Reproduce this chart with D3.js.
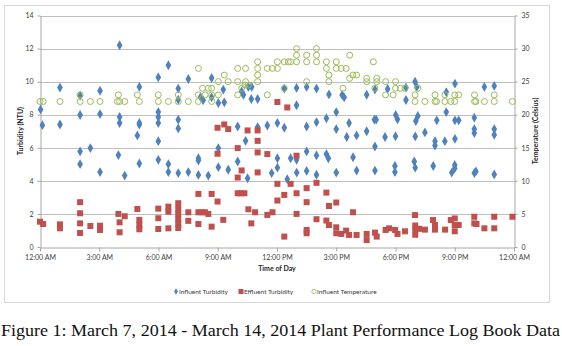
<!DOCTYPE html>
<html>
<head>
<meta charset="utf-8">
<script src="https://cdn.jsdelivr.net/npm/d3@7"></script>
<style>
  html, body { margin: 0; padding: 0; background: #fff; }
  svg { display: block; }
</style>
</head>
<body>
<svg id="chart" width="562" height="346"></svg>
<script>
// Plant performance log: readings by time of day (hours after midnight)
const influentHours = [0.03,0.12,1.01,1.01,2.03,2.03,2.03,2.03,2.55,3.04,3.04,3.04,4.03,4.03,4.03,3.97,4.29,5.03,5.03,5.03,4.93,5.03,
  5.99,5.99,5.99,5.99,5.99,5.99,6.5,6.5,6.5,7.0,7.0,7.0,7.0,7.0,7.51,7.51,8.02,8.02,8.02,8.13,8.26,8.52,8.69,8.69,
  9.03,9.03,9.03,9.28,9.33,9.53,10.01,10.01,10.21,10.3,10.41,10.51,10.55,10.72,10.7,11.02,11.02,11.51,11.73,
  12.02,12.02,12.02,12.37,12.37,12.52,12.69,12.99,12.99,12.99,13.0,13.5,13.5,13.5,13.5,14.0,14.0,14.0,14.0,
  14.5,14.5,14.6,14.63,15.0,15.0,15.0,15.3,15.4,15.53,15.65,15.85,16.03,16.03,16.54,16.54,16.96,16.93,17.02,16.96,16.96,
  17.47,17.6,17.97,17.97,18.01,18.1,18.0,18.53,18.99,18.53,19.08,19.13,19.03,19.0,19.49,19.91,18.95,19.0,
  20.09,20.0,20.0,20.57,20.57,20.5,21.01,21.01,21.2,21.01,21.0,21.0,20.85,21.99,21.99,21.99,21.99,22.07,
  22.5,23.0,23.0,23.0,23.0];
const influentNTU = [8.32,7.37,9.64,7.41,9.15,7.98,5.78,5.01,5.98,9.45,8.04,4.53,12.2,7.86,7.5,5.56,4.32,9.68,7.5,7.4,6.75,5.05,
  10.26,8.16,7.86,7.5,6.4,5.27,10.99,5.01,4.53,9.58,8.91,7.7,7.17,4.47,10.16,4.53,5.37,5.23,4.36,9.07,8.87,4.32,10.22,9.05,
  8.71,5.98,4.83,9.52,8.75,4.67,7.29,5.17,9.41,9.21,6.42,4.16,9.68,9.68,8.95,8.95,7.25,7.35,4.47,
  7.5,5.37,4.8,9.58,7.21,4.1,5.37,9.62,8.57,5.27,4.5,9.68,7.29,5.78,4.6,9.58,7.55,5.54,4.37,
  7.78,5.62,5.37,9.23,8.16,7.13,4.5,9.19,9.05,6.65,7.5,5.43,6.75,4.62,7.0,9.21,9.52,7.7,7.7,6.08,4.62,
  6.65,9.56,4.9,4.53,7.98,7.72,6.7,9.64,10.0,8.89,9.68,7.92,7.62,6.69,6.93,4.9,5.17,4.8,
  7.66,6.4,6.14,8.16,9.37,6.4,9.88,7.66,7.66,6.54,4.96,4.76,4.5,7.82,7.13,6.89,4.47,4.57,
  9.68,9.74,7.13,6.79,4.39];

const effluentHours = [0.0,0.16,1.01,1.01,2.03,2.03,2.03,2.03,2.55,3.04,3.04,3.97,4.03,4.03,4.29,4.93,5.03,5.03,5.03,
  5.99,5.99,5.99,6.5,6.5,6.5,7.0,7.0,7.0,7.0,7.0,7.0,7.51,7.51,8.02,8.02,8.02,8.19,8.35,8.52,8.69,8.69,
  8.99,8.99,8.99,9.33,9.53,9.28,10.01,10.01,10.01,10.18,10.35,10.21,10.51,10.55,10.7,10.89,11.02,11.02,11.02,11.02,
  11.51,11.51,11.77,12.02,12.02,12.02,12.37,12.37,12.52,12.69,12.99,12.99,12.99,13.5,13.5,13.5,13.5,14.0,14.0,
  14.5,14.5,14.63,14.63,15.0,15.0,15.0,15.25,15.5,15.65,15.85,16.03,16.54,16.54,16.96,17.05,17.5,17.68,17.98,
  18.1,18.48,18.99,19.0,19.0,19.0,19.2,19.49,19.9,20.0,20.0,20.51,20.8,21.0,21.0,21.0,21.2,21.99,21.99,22.1,
  22.5,23.0,23.0,23.92];
const effluentNTU = [1.53,1.39,1.37,1.13,2.71,2.04,1.43,0.85,1.27,1.29,1.03,2.0,1.49,0.89,1.86,2.3,1.64,1.33,1.07,
  2.32,1.74,1.09,2.44,2.14,1.13,2.65,2.3,2.0,1.7,1.4,1.15,2.1,1.58,3.21,2.1,1.39,2.1,2.1,2.0,3.21,1.23,
  2.75,7.21,5.64,7.41,7.13,1.64,5.98,4.2,3.25,3.25,3.25,4.63,7.05,2.28,1.43,2.1,7.05,6.42,5.72,4.51,
  5.62,1.94,2.1,8.77,3.82,2.81,3.15,0.63,8.44,3.82,5.52,3.25,2.0,3.56,2.71,1.03,0.83,3.88,1.68,
  3.29,1.6,2.48,1.33,2.69,1.19,0.83,0.79,0.99,0.73,2.1,0.73,0.79,0.42,0.87,0.63,1.03,1.13,1.03,
  0.79,0.95,1.93,1.3,1.05,0.74,1.1,1.05,1.63,1.33,1.05,1.05,1.63,1.73,1.33,0.95,1.33,1.83,1.43,1.39,
  1.13,1.83,1.13,1.83];

const tempHours = [0.0,0.16,1.01,2.03,2.03,2.55,3.04,3.92,3.97,4.03,4.29,4.93,5.03,5.99,5.99,6.5,7.0,7.0,7.51,
  8.02,8.02,8.02,8.23,8.52,8.36,8.69,8.69,8.69,9.03,9.03,9.33,9.53,10.01,10.41,10.01,10.41,10.01,10.21,10.38,10.55,
  11.02,11.02,11.02,11.02,11.51,11.77,12.02,12.02,11.51,12.37,12.57,12.69,12.37,12.99,12.99,12.99,13.5,13.5,13.5,
  14.0,14.0,14.0,14.5,14.5,14.63,14.63,15.0,15.0,15.25,15.5,15.68,15.68,15.85,16.03,15.34,16.54,16.54,16.88,
  17.05,17.05,16.96,17.5,18.0,17.5,17.88,18.0,18.25,18.48,19.13,18.99,18.99,19.49,20.0,20.0,20.08,20.5,20.5,
  20.8,21.0,21.0,21.2,22.0,22.0,22.07,22.5,23.0,23.0,23.92];
const tempC = [22,22,22,23,22,22,22,22,23,22,22,23,22,23,22,22,23,22,22,
  27,23,22,24,24,23,24,23,22,25,23,26,25,27,27,25,25,23,24,24.5,24.5,
  28,27,26,25,27,27,28,27,23,28,28,28,24,28,29,30,29,28,25,
  30,29,28,28,27,26,25,28,27,27,27,29,25.5,26,26,24,25.5,25,28,
  25.5,25,24,25,25,23,23,24,24,24,24,23,22,22,23,22,22,23,22,
  22,23,22,23,23,22,22,22,23,22,22];

const xTickHours = [0, 3, 6, 9, 12, 15, 18, 21, 24];
const xTickLabels = ["12:00 AM","3:00 AM","6:00 AM","9:00 AM","12:00 PM","3:00 PM","6:00 PM","9:00 PM","12:00 AM"];
const leftTicks = [0, 2, 4, 6, 8, 10, 12, 14];
const rightTicks = [0, 5, 10, 15, 20, 25, 30, 35];
const seriesNames = ["Influent Turbidity", "Effluent Turbidity", "Influent Temperature"];
const seriesColors = ["#4F81BD", "#C0504D", "#9BBB59"];

const svg = d3.select("#chart");
const font = "Lato, 'Open Sans', sans-serif";
const plot = { left: 40, right: 514, top: 15.5, bottom: 247 };

// outer chart frame
svg.append("rect")
  .attr("x", 4.5).attr("y", 5.5).attr("width", 545).attr("height", 297)
  .attr("fill", "#fff").attr("stroke", "#D9D9D9").attr("stroke-width", 1);

const x = d3.scaleLinear().domain([0, 24]).range([plot.left, plot.right]);
const yL = d3.scaleLinear().domain([0, 14]).range([plot.bottom, plot.top]);
const yR = d3.scaleLinear().domain([0, 35]).range([plot.bottom, plot.top]);

// horizontal gridlines
svg.append("g").selectAll("line").data(leftTicks.slice(1)).join("line")
  .attr("x1", plot.left).attr("x2", plot.right)
  .attr("y1", d => Math.round(yL(d)) + 0.5).attr("y2", d => Math.round(yL(d)) + 0.5)
  .attr("stroke", "#BFBFBF").attr("stroke-width", 1);

const axisStyle = g => {
  g.selectAll("path.domain").attr("stroke", "#A6A6A6");
  g.selectAll(".tick line").attr("stroke", "#A6A6A6");
  g.selectAll("text").attr("fill", "#404040").style("font-family", font).style("font-size", "7px");
};

const fmtX = d => xTickLabels[xTickHours.indexOf(d)];
svg.append("g")
  .attr("transform", `translate(0,${Math.round(plot.bottom) + 0.5})`)
  .call(d3.axisBottom(x).tickValues(xTickHours).tickFormat(fmtX).tickSize(4).tickSizeOuter(0).tickPadding(4))
  .call(axisStyle);

svg.append("g")
  .attr("transform", `translate(${plot.left + 0.5},0)`)
  .call(d3.axisLeft(yL).tickValues(leftTicks).tickSize(3).tickSizeOuter(0).tickPadding(4))
  .call(axisStyle);

svg.append("g")
  .attr("transform", `translate(${plot.right + 0.5},0)`)
  .call(d3.axisRight(yR).tickValues(rightTicks).tickSize(3).tickSizeOuter(0).tickPadding(4))
  .call(axisStyle);

// axis titles
const titleStyle = t => t.attr("fill", "#262626").style("font-family", font)
  .style("font-size", "7px").style("font-weight", "bold").attr("text-anchor", "middle");
svg.append("text").attr("transform", "translate(23,131) rotate(-90)").text("Turbidity (NTU)").call(titleStyle);
svg.append("text").attr("transform", "translate(538,131) rotate(-90)").text("Temperature (Celsius)").call(titleStyle);
svg.append("text").attr("x", 277).attr("y", 271).text("Time of Day").call(titleStyle);

// markers
const diamond = d3.symbol().type(d3.symbolDiamond).size(28);
svg.append("g").selectAll("path").data(d3.range(influentHours.length)).join("path")
  .attr("d", diamond)
  .attr("transform", i => `translate(${x(influentHours[i])},${yL(influentNTU[i])})`)
  .attr("fill", seriesColors[0]);

svg.append("g").selectAll("rect").data(d3.range(effluentHours.length)).join("rect")
  .attr("x", i => x(effluentHours[i]) - 3).attr("y", i => yL(effluentNTU[i]) - 3)
  .attr("width", 6).attr("height", 6)
  .attr("fill", seriesColors[1]);

svg.append("g").selectAll("circle").data(d3.range(tempHours.length)).join("circle")
  .attr("cx", i => x(tempHours[i])).attr("cy", i => yR(tempC[i]))
  .attr("r", 3)
  .attr("fill", "none").attr("stroke", seriesColors[2]).attr("stroke-width", 1);

// legend
const legendX = [176, 241, 314];
const lg = svg.append("g");
seriesNames.forEach((name, i) => {
  const cx = legendX[i], cy = 291.5;
  if (i === 0) lg.append("path").attr("d", d3.symbol().type(d3.symbolDiamond).size(12)).attr("transform", `translate(${cx},${cy})`).attr("fill", seriesColors[0]);
  if (i === 1) lg.append("rect").attr("x", cx - 2.5).attr("y", cy - 2.5).attr("width", 5).attr("height", 5).attr("fill", seriesColors[1]);
  if (i === 2) lg.append("circle").attr("cx", cx).attr("cy", cy).attr("r", 2.2).attr("fill", "none").attr("stroke", seriesColors[2]).attr("stroke-width", 0.8);
  lg.append("text").attr("x", cx + 3).attr("y", cy + 2.5).text(name)
    .attr("fill", "#404040").style("font-family", font).style("font-size", "6.5px");
});

// figure caption
svg.append("text").attr("x", 1).attr("y", 336)
  .attr("textLength", 559).attr("lengthAdjust", "spacingAndGlyphs")
  .style("font-family", "'Liberation Serif', 'DejaVu Serif', serif").style("font-size", "16px")
  .attr("fill", "#111")
  .text("Figure 1: March 7, 2014 - March 14, 2014 Plant Performance Log Book Data");
</script>
</body>
</html>
